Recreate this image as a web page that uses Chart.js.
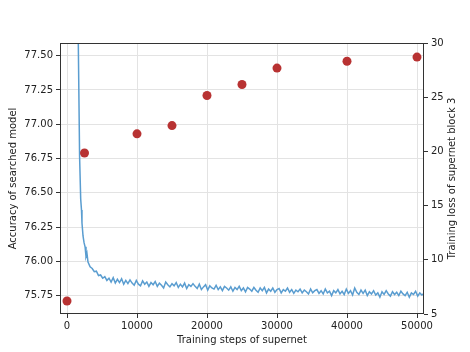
<!DOCTYPE html>
<html>
<head>
<meta charset="utf-8">
<script src="https://cdn.jsdelivr.net/npm/chart.js@4.4.1/dist/chart.umd.min.js"></script>
<style>
  body { margin: 0; background: #fff; }
</style>
</head>
<body>
<canvas id="chart" width="470" height="352"></canvas>
<script>
// accuracy of searched model (left axis)
const accSteps = [0, 2500, 10000, 15000, 20000, 25000, 30000, 40000, 50000];
const accValues = [75.71, 76.79, 76.93, 76.99, 77.21, 77.29, 77.41, 77.46, 77.49];

// training loss of supernet block 3 (right axis)
// early steep part, read point by point
const lossEarlySteps = [1400, 1614, 1800, 1957, 2070, 2140, 2190, 2290, 2430, 2580, 2714, 2850];
const lossEarlyValues = [45, 30, 19.5, 15.6, 14.6, 13.4, 13.0, 12.2, 11.6, 11.2, 10.3, 10.6];
// rest of the curve, sampled every 300 steps from 3000
const lossStart = 3000;
const lossInterval = 300;
const lossValues = [
  9.8, 9.35, 9.2, 8.9, 8.95, 8.55, 8.6, 8.3, 8.45, 8.1, 8.3,
  7.95, 8.35, 7.85, 8.2, 7.9, 8.25, 7.75, 8.1, 7.8, 8.15,
  7.85, 7.65, 8.1, 7.75, 7.6, 8.05, 7.75, 7.95, 7.55, 7.9,
  7.7, 8.0, 7.55, 7.85, 7.65, 7.4, 7.95, 7.7, 7.5, 7.8,
  7.6, 7.9, 7.45, 7.75, 7.5, 7.85, 7.35, 7.7, 7.55, 7.8,
  7.55, 7.35, 7.75, 7.25, 7.5, 7.7, 7.2, 7.6, 7.4, 7.3,
  7.65, 7.25, 7.5, 7.15, 7.55, 7.4, 7.2, 7.5, 7.1, 7.45,
  7.25, 7.55, 7.15, 7.4, 7.05, 7.45, 7.3, 7.1, 7.45, 7.2,
  7.0, 7.4, 7.15, 7.45, 6.95, 7.3, 7.1, 7.4, 7.0, 7.25,
  7.35, 6.95, 7.25, 7.1, 7.4, 7.0, 7.25, 6.9, 7.2, 7.05,
  7.3, 6.95, 7.2, 7.05, 6.85, 7.3, 6.95, 7.15, 7.25, 6.9,
  7.15, 6.85, 7.3, 6.95, 7.1, 6.7, 7.15, 6.95, 7.25, 6.85,
  7.1, 6.8, 7.3, 6.9, 7.15, 6.75, 7.4, 7.0, 6.8, 7.2,
  6.9, 7.2, 6.7, 7.05, 6.85, 7.15, 6.75, 6.95, 6.55, 7.05,
  6.8, 7.15, 6.85, 6.65, 7.05, 6.8, 7.0, 6.7, 7.1, 6.85,
  6.7, 7.0, 6.55, 6.95, 6.8, 7.1, 6.65, 6.95, 6.75, 6.9
];

const xTicks = [0, 10000, 20000, 30000, 40000, 50000];
const accTicks = [75.75, 76.00, 76.25, 76.50, 76.75, 77.00, 77.25, 77.50];
const lossTicks = [5, 10, 15, 20, 25, 30];

const accData = accSteps.map((s, i) => ({ x: s, y: accValues[i] }));
const lossData = lossEarlySteps.map((s, i) => ({ x: s, y: lossEarlyValues[i] }))
  .concat(lossValues.map((v, i) => ({ x: lossStart + i * lossInterval, y: v })));

const font = { family: 'DejaVu Sans', size: 10 };
const textColor = '#222';
const rightTitle = 'Training loss of supernet block 3';

// matplotlib-like box around the plot, plus the right title read bottom to top
const frame = {
  id: 'frame',
  afterDraw(chart) {
    const { ctx, chartArea: a } = chart;
    ctx.save();
    ctx.strokeStyle = '#333';
    ctx.lineWidth = 1;
    ctx.strokeRect(a.left + 0.5, a.top + 0.5, a.right - a.left - 1, a.bottom - a.top - 1);
    ctx.translate(452, (a.top + a.bottom) / 2);
    ctx.rotate(-Math.PI / 2);
    ctx.font = '10px "DejaVu Sans"';
    ctx.fillStyle = textColor;
    ctx.textAlign = 'center';
    ctx.textBaseline = 'middle';
    ctx.fillText(rightTitle, 0, 0);
    ctx.restore();
  }
};

new Chart(document.getElementById('chart'), {
  type: 'line',
  data: {
    datasets: [
      {
        type: 'scatter',
        data: accData,
        yAxisID: 'y',
        backgroundColor: '#b83232',
        borderColor: '#b83232',
        pointRadius: 4.5,
        pointBorderWidth: 0
      },
      {
        data: lossData,
        yAxisID: 'y2',
        borderColor: '#5a9dd0',
        borderWidth: 1.5,
        pointRadius: 0,
        tension: 0,
        fill: false
      }
    ]
  },
  options: {
    responsive: false,
    animation: false,
    layout: { padding: { top: 43 } },
    plugins: { legend: { display: false }, tooltip: { enabled: false } },
    scales: {
      x: {
        type: 'linear',
        min: -1000,
        max: 51000,
        afterBuildTicks: s => { s.ticks = xTicks.map(v => ({ value: v })); },
        afterFit: s => { s.height = 38; },
        border: { display: false },
        grid: { color: '#e3e3e3', tickColor: '#333', tickLength: 4 },
        ticks: { font, color: textColor, padding: 2, maxRotation: 0, callback: v => String(v) },
        title: { display: true, text: 'Training steps of supernet', font, color: textColor, padding: { top: 0, bottom: 6 } }
      },
      y: {
        position: 'left',
        min: 75.615,
        max: 77.593,
        afterBuildTicks: s => { s.ticks = accTicks.map(v => ({ value: v })); },
        afterFit: s => { s.width = 60; },
        border: { display: false },
        grid: { color: '#e3e3e3', tickColor: '#333', tickLength: 4 },
        ticks: { font, color: textColor, padding: 3, callback: v => v.toFixed(2) },
        title: { display: true, text: 'Accuracy of searched model', font, color: textColor, padding: { top: 7, bottom: 0 } }
      },
      y2: {
        position: 'right',
        min: 5,
        max: 30,
        afterBuildTicks: s => { s.ticks = lossTicks.map(v => ({ value: v })); },
        afterFit: s => { s.width = 46; },
        border: { display: false },
        grid: { drawOnChartArea: false, tickColor: '#333', tickLength: 4 },
        ticks: { font, color: textColor, padding: 3 }
      }
    }
  },
  plugins: [frame]
});
</script>
</body>
</html>
